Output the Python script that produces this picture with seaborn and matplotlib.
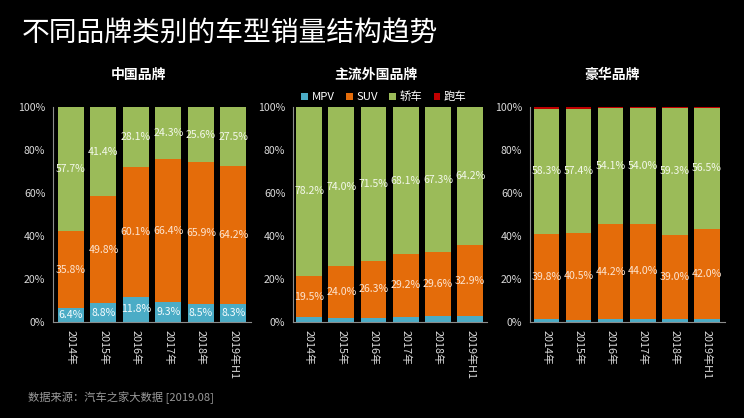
import matplotlib
matplotlib.use("Agg")
import matplotlib.pyplot as plt
from matplotlib.patches import Patch
import seaborn as sns
import numpy as np
import pandas as pd

sns.set_theme(style="dark")
plt.rcParams['font.family'] = ['Noto Sans CJK SC', 'DejaVu Sans']

years = ["2014年", "2015年", "2016年", "2017年", "2018年", "2019年H1"]
segments = ["MPV", "SUV", "轿车", "跑车"]
panel_titles = ["中国品牌", "主流外国品牌", "豪华品牌"]

# China brands
cn_mpv = [6.4, 8.8, 11.8, 9.3, 8.5, 8.3]
cn_suv = [35.8, 49.8, 60.1, 66.4, 65.9, 64.2]
cn_sedan = [57.7, 41.4, 28.1, 24.3, 25.6, 27.5]
cn_sport = [0.1, 0.0, 0.0, 0.0, 0.0, 0.0]

# Mainstream foreign brands
fg_mpv = [2.1, 1.9, 2.0, 2.5, 2.9, 2.7]
fg_suv = [19.5, 24.0, 26.3, 29.2, 29.6, 32.9]
fg_sedan = [78.2, 74.0, 71.5, 68.1, 67.3, 64.2]
fg_sport = [0.2, 0.1, 0.2, 0.2, 0.2, 0.2]

# Luxury brands
lx_mpv = [1.2, 1.0, 1.3, 1.6, 1.4, 1.2]
lx_suv = [39.8, 40.5, 44.2, 44.0, 39.0, 42.0]
lx_sedan = [58.3, 57.4, 54.1, 54.0, 59.3, 56.5]
lx_sport = [0.7, 1.1, 0.4, 0.4, 0.3, 0.3]

panels = [
    [cn_mpv, cn_suv, cn_sedan, cn_sport],
    [fg_mpv, fg_suv, fg_sedan, fg_sport],
    [lx_mpv, lx_suv, lx_sedan, lx_sport],
]
# which segments get value labels per panel
show_labels = [
    [True, True, True, False],
    [False, True, True, False],
    [False, True, True, False],
]

colors = ["#4BACC6", "#E46C0A", "#9BBB59", "#C00000"]
label_colors = ["#f4fbfd", "#fde4d0", "#f3f8ea", "#ffffff"]
bg = "#000000"
axis_col = "#8c8c8c"
tick_col = "#dadada"

W, H = 744, 418
fig = plt.figure(figsize=(W / 100, H / 100), dpi=100, facecolor=bg)

ax_px = [(53, 198, -0.55, 5.54), (293, 194, -0.5, 5.52), (530, 195, -0.51, 5.56)]
top_px, bot_px = 107, 322
title_x = [139, 376, 612]

for p, (vals, (lpx, wpx, x0, x1)) in enumerate(zip(panels, ax_px)):
    ax = fig.add_axes([lpx / W, (H - bot_px) / H, wpx / W, (bot_px - top_px) / H])
    ax.set_facecolor(bg)
    df = pd.DataFrame({"year": years})
    cum = np.zeros(len(years))
    cums = []
    for v in vals:
        cum = cum + np.array(v)
        cums.append(cum.copy())
    # draw from top (cumulative total) down
    for k in range(len(vals) - 1, -1, -1):
        df["h"] = cums[k]
        sns.barplot(data=df, x="year", y="h", color=colors[k], saturation=1,
                    width=0.8, ax=ax, linewidth=0, errorbar=None)
    # value labels
    for k, v in enumerate(vals):
        if not show_labels[p][k]:
            continue
        bottom = cums[k] - np.array(v)
        for i, val in enumerate(v):
            ax.text(i, bottom[i] + val / 2, f"{val:.1f}%", ha="center", va="center",
                    color=label_colors[k], fontsize=7.6)
    ax.set_xlim(x0, x1)
    ax.set_ylim(0, 100)
    ax.set_yticks([0, 20, 40, 60, 80, 100])
    ax.set_yticklabels([f"{t}%" for t in [0, 20, 40, 60, 80, 100]])
    ax.set_xticks(range(len(years)))
    ax.set_xticklabels(years, rotation=270)
    ax.set_xticks(np.arange(-0.5, len(years), 1.0), minor=True)
    ax.tick_params(axis="x", which="major", length=0, pad=6, colors=tick_col, labelsize=7.8)
    ax.tick_params(axis="x", which="minor", length=3.5, color=axis_col, width=0.8, direction="out")
    ax.tick_params(axis="y", length=3.5, color=axis_col, width=0.8, colors=tick_col,
                   labelsize=7.6, pad=2, direction="out")
    ax.tick_params(axis="y", color=axis_col)
    for lab in ax.get_xticklabels():
        lab.set_va("top")
    ax.set_xlabel("")
    ax.set_ylabel("")
    ax.grid(False)
    for s in ["top", "right"]:
        ax.spines[s].set_visible(False)
    for s in ["left", "bottom"]:
        ax.spines[s].set_visible(True)
        ax.spines[s].set_color(axis_col)
        ax.spines[s].set_linewidth(0.8)
    fig.text(title_x[p] / W, 1 - 75 / H, panel_titles[p], ha="center", va="center",
             color="white", fontsize=10, fontweight="bold")

handles = [Patch(facecolor=c, edgecolor="none") for c in colors]
leg = fig.legend(handles, segments, loc="center", bbox_to_anchor=(384 / W, 1 - 97 / H),
                 ncol=4, frameon=False, fontsize=8.2, handlelength=0.6, handleheight=0.6,
                 handletextpad=0.3, columnspacing=1.0, borderpad=0)
for t in leg.get_texts():
    t.set_color("white")

fig.text(22 / W, 1 - 34 / H, "不同品牌类别的车型销量结构趋势", ha="left", va="center",
         color="white", fontsize=20)
fig.text(28 / W, 1 - 398 / H, "数据来源：汽车之家大数据 [2019.08]", ha="left", va="center",
         color="#9a9a9a", fontsize=8.1)

fig.savefig("out.png", dpi=100, facecolor=bg)
